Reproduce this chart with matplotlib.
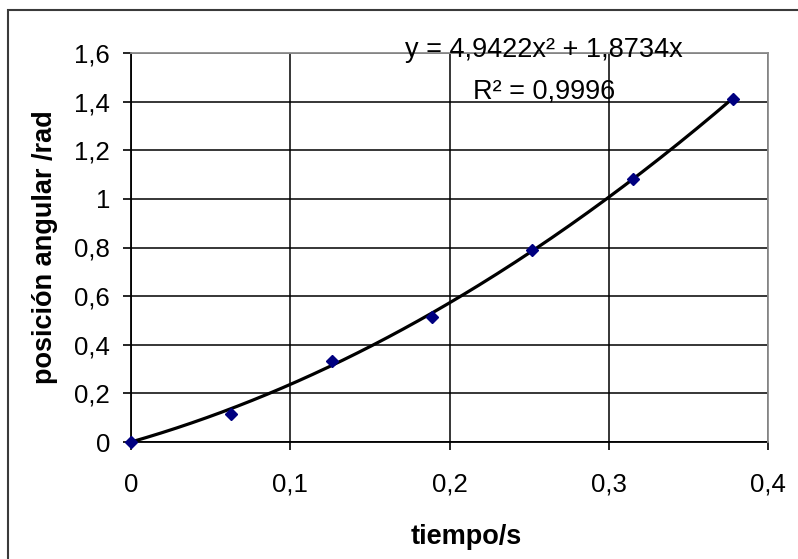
import numpy as np
import matplotlib
matplotlib.use("Agg")
import matplotlib.pyplot as plt
from matplotlib.patches import Rectangle

plt.rcParams['font.family'] = ['Liberation Sans', 'DejaVu Sans']

# datos medidos
tiempo = [0, 0.063, 0.126, 0.189, 0.252, 0.315, 0.378]
posicion = [0, 0.115, 0.333, 0.515, 0.79, 1.082, 1.411]

# coeficientes de la linea de tendencia (y = a x^2 + b x)
coef = [4.9422, 1.8734, 0.0]
r2 = 0.9996

x_ticks = [0, 0.1, 0.2, 0.3, 0.4]
y_ticks = [0, 0.2, 0.4, 0.6, 0.8, 1.0, 1.2, 1.4, 1.6]


def coma(v):
    s = f"{v:g}"
    return s.replace(".", ",")


fig = plt.figure(figsize=(7.98, 5.59), dpi=100)
ax = fig.add_axes([131 / 798, 1 - 442 / 559, 637 / 798, 389 / 559])

# marco exterior
fig.patches.append(Rectangle((8 / 798, -0.1), 1.2, 1 - 10 / 559 + 0.1,
                             transform=fig.transFigure, fill=False,
                             edgecolor="#3a3a3a", linewidth=1.5))

xs = np.linspace(0, tiempo[-1], 200)
ax.plot(xs, np.polyval(coef, xs), color="black", linewidth=2.3, zorder=3)
ax.plot(tiempo, posicion, linestyle="none", marker="D", markersize=6,
        color="#000080", zorder=4, clip_on=False)

ax.set_xlim(0, 0.4)
ax.set_ylim(0, 1.6)
ax.set_xticks(x_ticks)
ax.set_yticks(y_ticks)
ax.set_xticklabels([coma(v) for v in x_ticks])
ax.set_yticklabels([coma(v) for v in y_ticks])
ax.tick_params(axis="both", labelsize=18.5, length=6, width=1.2, color="black")
ax.tick_params(axis="x", pad=16)
ax.tick_params(axis="y", pad=9)

ax.grid(True, color="black", linewidth=1.1)
for lado in ["left", "bottom"]:
    ax.spines[lado].set_color("black")
    ax.spines[lado].set_linewidth(1.3)
for lado in ["top", "right"]:
    ax.spines[lado].set_color("#8c8c8c")
    ax.spines[lado].set_linewidth(1.3)
    ax.spines[lado].set_zorder(5)

ax.set_xlabel("tiempo/s", fontsize=19.5, fontweight="bold")
ax.xaxis.set_label_coords(0.526, -0.243)
ax.xaxis.label.set_va("center")
ax.set_ylabel("posición angular /rad", fontsize=19.5, fontweight="bold")
ax.yaxis.set_label_coords(-0.135, 0.5)
ax.yaxis.label.set_va("center")

ax.text(0.648, 0.990, "y = " + coma(coef[0]) + "x² + " + coma(coef[1]) + "x",
        transform=ax.transAxes, ha="center", va="baseline", fontsize=19.5,
        zorder=6)
ax.text(0.648, 0.882, "R² = " + coma(r2), transform=ax.transAxes,
        ha="center", va="baseline", fontsize=19.5, zorder=6)

fig.savefig("out.png", dpi=100)
